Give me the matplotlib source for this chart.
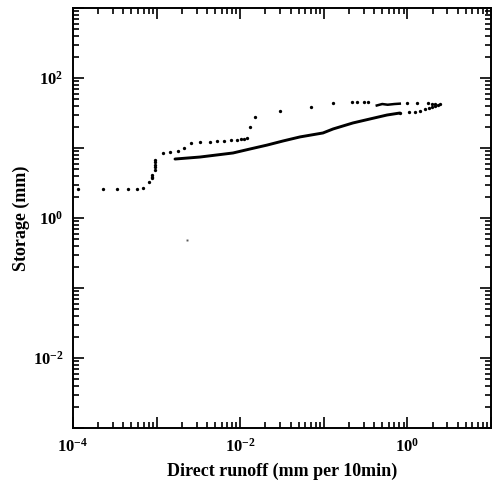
import matplotlib

matplotlib.use("Agg")
import matplotlib.pyplot as plt
from matplotlib.ticker import FixedLocator, FixedFormatter, LogLocator, NullFormatter

plt.rcParams["font.family"] = ["Liberation Serif", "DejaVu Serif"]
plt.rcParams["font.weight"] = "bold"
plt.rcParams["mathtext.fontset"] = "custom"
plt.rcParams["mathtext.rm"] = "Liberation Serif:bold"
plt.rcParams["mathtext.it"] = "Liberation Serif:bold"
plt.rcParams["mathtext.bf"] = "Liberation Serif:bold"

# outer (dotted) branch of the loop
loop_x = [1.15e-4, 2.3e-4, 3.4e-4, 4.5e-4, 5.8e-4, 6.9e-4, 8.1e-4,
          8.8e-4, 8.8e-4, 8.8e-4,
          9.6e-4, 9.6e-4, 9.6e-4, 9.6e-4, 9.6e-4,
          1.19e-3, 1.44e-3, 1.8e-3, 2.1e-3, 2.6e-3,
          3.3e-3, 4.36e-3, 5.27e-3, 6.4e-3, 7.76e-3, 9.1e-3, 1.02e-2, 1.11e-2, 1.21e-2,
          1.31e-2, 1.5e-2, 0.030, 0.070, 0.129, 0.217, 0.25, 0.30, 0.34,
          0.99, 1.30, 1.76, 1.95, 2.12, 2.45]
loop_y = [2.6, 2.6, 2.6, 2.6, 2.6, 2.7, 3.3,
          3.7, 3.9, 4.1,
          4.9, 5.3, 5.8, 6.3, 6.7,
          8.5, 8.7, 9.0, 10.0, 11.8,
          12.2, 12.2, 12.4, 12.6, 12.8, 13.0, 13.3, 13.6, 14.0,
          20.0, 28.0, 34.0, 38.5, 44.0, 45.5, 45.5, 45.5, 45.5,
          44.0, 44.0, 44.0, 42.5, 42.5, 43.0]

# short squiggle near the top of the loop
squig_x = [0.43, 0.50, 0.58, 0.70, 0.81]
squig_y = [40.5, 42.5, 41.5, 42.5, 43.0]

# return (dotted) branch
back_x = [2.30, 2.12, 1.95, 1.80, 1.64, 1.42, 1.24, 1.05, 0.81]
back_y = [41.0, 40.0, 38.5, 37.0, 36.0, 34.0, 33.0, 32.6, 31.6]

# lower, densely sampled branch
low_x = [1.66e-3, 3.3e-3, 8.2e-3, 1.31e-2, 2.09e-2, 3.25e-2, 5.19e-2,
         9.77e-2, 0.129, 0.223, 0.357, 0.570, 0.81]
low_y = [6.96, 7.43, 8.49, 9.68, 11.0, 12.6, 14.4,
         16.4, 18.7, 22.8, 26.0, 29.6, 31.6]

stray_x = [2.3e-3]
stray_y = [0.49]

x_ticks = [1e-4, 1e-3, 1e-2, 1e-1, 1e0, 1e1]
x_tick_labels = [r"$10^{-4}$", "", r"$10^{-2}$", "", r"$10^{0}$", ""]
y_ticks = [1e-3, 1e-2, 1e-1, 1e0, 1e1, 1e2, 1e3]
y_tick_labels = ["", r"$10^{-2}$", "", r"$10^{0}$", "", r"$10^{2}$", ""]

fig = plt.figure(figsize=(4.98, 4.91), dpi=100)
ax = fig.add_axes([0.1466, 0.1283, 0.8394, 0.8554])

ax.plot(low_x, low_y, "-", color="black", lw=2.1, solid_capstyle="round")
ax.plot(loop_x, loop_y, "o", color="black", ms=2.4, mew=0)
ax.plot(squig_x, squig_y, "-", color="black", lw=1.8)
ax.plot(back_x, back_y, "o", color="black", ms=2.4, mew=0)
ax.plot(stray_x, stray_y, "s", color="0.35", ms=1.4, mew=0)

ax.set_xscale("log")
ax.set_yscale("log")
ax.set_xlim(1e-4, 1e1)
ax.set_ylim(1e-3, 1e3)

ax.xaxis.set_major_locator(FixedLocator(x_ticks))
ax.xaxis.set_major_formatter(FixedFormatter(x_tick_labels))
ax.yaxis.set_major_locator(FixedLocator(y_ticks))
ax.yaxis.set_major_formatter(FixedFormatter(y_tick_labels))
for axis in (ax.xaxis, ax.yaxis):
    axis.set_minor_locator(LogLocator(base=10, subs=range(2, 10), numticks=20))
    axis.set_minor_formatter(NullFormatter())

ax.tick_params(which="both", direction="in", top=True, right=True, width=1.2)
ax.tick_params(which="major", length=8, labelsize=12, pad=7)
ax.tick_params(which="minor", length=4)
for s in ax.spines.values():
    s.set_linewidth(1.4)

ax.set_xlabel("Direct runoff (mm per 10min)", fontsize=13, fontweight="bold", labelpad=5)
ax.set_ylabel("Storage (mm)", fontsize=13, fontweight="bold", labelpad=2)

fig.savefig("out.png", dpi=100)
